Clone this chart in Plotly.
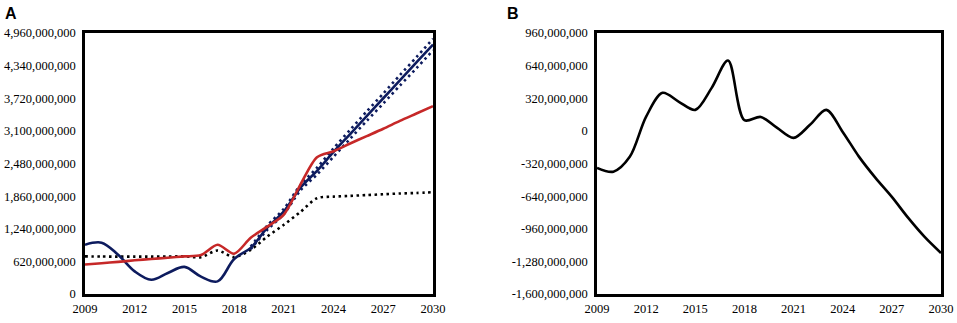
import plotly.graph_objects as go

years = list(range(2009, 2031))

# Panel A series (values in units)
blue_main = [935e6, 975e6, 745e6, 430e6, 270e6, 400e6, 515e6, 330e6, 240e6, 665e6, 877e6,
             1260e6, 1570e6, 2020e6, 2340e6, 2700e6, 3040e6, 3380e6, 3720e6, 4060e6, 4400e6, 4740e6]
blue_years_band = list(range(2019, 2031))
blue_upper = [900e6, 1300e6, 1620e6, 2070e6, 2400e6, 2770e6, 3120e6, 3470e6, 3810e6, 4160e6, 4500e6, 4850e6]
blue_lower = [850e6, 1220e6, 1520e6, 1970e6, 2270e6, 2610e6, 2950e6, 3290e6, 3620e6, 3960e6, 4290e6, 4630e6]
red_line = [560e6, 585e6, 610e6, 640e6, 665e6, 690e6, 715e6, 740e6, 935e6, 765e6, 1068e6,
            1280e6, 1510e6, 2080e6, 2600e6, 2714e6, 2860e6, 3000e6, 3140e6, 3290e6, 3430e6, 3570e6]
black_dotted = [715e6, 712e6, 710e6, 710e6, 710e6, 712e6, 715e6, 700e6, 826e6, 700e6, 840e6,
                1093e6, 1316e6, 1560e6, 1820e6, 1850e6, 1865e6, 1880e6, 1895e6, 1910e6, 1920e6, 1935e6]

# Panel B series
diff_line = [-363e6, -400e6, -255e6, 140e6, 373e6, 285e6, 206e6, 422e6, 690e6, 105e6, 137e6,
             29e6, -69e6, 59e6, 206e6, -10e6, -255e6, -461e6, -648e6, -854e6, -1040e6, -1198e6]

x_ticks = [2009, 2012, 2015, 2018, 2021, 2024, 2027, 2030]
yA_ticks = [0, 620e6, 1240e6, 1860e6, 2480e6, 3100e6, 3720e6, 4340e6, 4960e6]
yB_ticks = [-1600e6, -1280e6, -960e6, -640e6, -320e6, 0, 320e6, 640e6, 960e6]
yA_labels = [f"{v:,.0f}" for v in yA_ticks]
yB_labels = [f"{v:,.0f}" for v in yB_ticks]

NAVY = "#0d1b5e"
RED = "#c62828"

fig = go.Figure()
fig.add_trace(go.Scatter(x=years, y=black_dotted, mode="lines",
                         line=dict(color="black", width=2.6, dash="2.5px,3.5px", shape="spline", smoothing=0.8),
                         xaxis="x", yaxis="y"))
fig.add_trace(go.Scatter(x=blue_years_band, y=blue_upper, mode="lines",
                         line=dict(color=NAVY, width=2.6, dash="2.5px,3.5px", shape="spline", smoothing=0.8),
                         xaxis="x", yaxis="y"))
fig.add_trace(go.Scatter(x=blue_years_band, y=blue_lower, mode="lines",
                         line=dict(color=NAVY, width=2.6, dash="2.5px,3.5px", shape="spline", smoothing=0.8),
                         xaxis="x", yaxis="y"))
fig.add_trace(go.Scatter(x=years, y=blue_main, mode="lines",
                         line=dict(color=NAVY, width=2.6, shape="spline", smoothing=1.0),
                         xaxis="x", yaxis="y"))
fig.add_trace(go.Scatter(x=years, y=red_line, mode="lines",
                         line=dict(color=RED, width=2.6, shape="spline", smoothing=0.8),
                         xaxis="x", yaxis="y"))
fig.add_trace(go.Scatter(x=years, y=diff_line, mode="lines",
                         line=dict(color="black", width=2.6, shape="spline", smoothing=0.9),
                         xaxis="x2", yaxis="y2"))

W, H = 957, 323


def px_x(v):
    return v / W


def px_y(v):
    return 1 - v / H


axis_font = dict(family="Liberation Serif", size=12.5, color="black")
common_x = dict(range=[2009, 2030], tickvals=x_ticks, showgrid=False, zeroline=False,
                showline=True, mirror=True, linecolor="black", linewidth=2.5,
                ticks="", tickfont=axis_font, fixedrange=True, automargin=False,
                ticklabelstandoff=1)
common_y = dict(showgrid=False, zeroline=False, showline=True, mirror=True,
                linecolor="black", linewidth=2.5, ticks="", tickfont=axis_font,
                fixedrange=True, automargin=False, ticklabelstandoff=4)

fig.update_layout(
    width=W, height=H,
    margin=dict(l=0, r=0, t=0, b=0),
    paper_bgcolor="white", plot_bgcolor="white",
    showlegend=False,
    xaxis=dict(domain=[px_x(85), px_x(433)], anchor="y", **common_x),
    yaxis=dict(domain=[px_y(294), px_y(33)], anchor="x", range=[0, 4.96e9],
               tickvals=yA_ticks, ticktext=yA_labels, **common_y),
    xaxis2=dict(domain=[px_x(597), px_x(941)], anchor="y2", **common_x),
    yaxis2=dict(domain=[px_y(294), px_y(33)], anchor="x2", range=[-1.6e9, 0.96e9],
                tickvals=yB_ticks, ticktext=yB_labels, **common_y),
    annotations=[
        dict(text="<b>A</b>", x=px_x(10.5), y=px_y(13.5), xref="paper", yref="paper",
             xanchor="center", yanchor="middle",
             showarrow=False, font=dict(family="Liberation Sans", size=16, color="black")),
        dict(text="<b>B</b>", x=px_x(512.5), y=px_y(13.5), xref="paper", yref="paper",
             xanchor="center", yanchor="middle",
             showarrow=False, font=dict(family="Liberation Sans", size=16, color="black")),
    ],
)

fig.write_html("out.html", config={"displayModeBar": False},
               post_script="document.body.style.margin='0';document.body.style.overflow='hidden';")
